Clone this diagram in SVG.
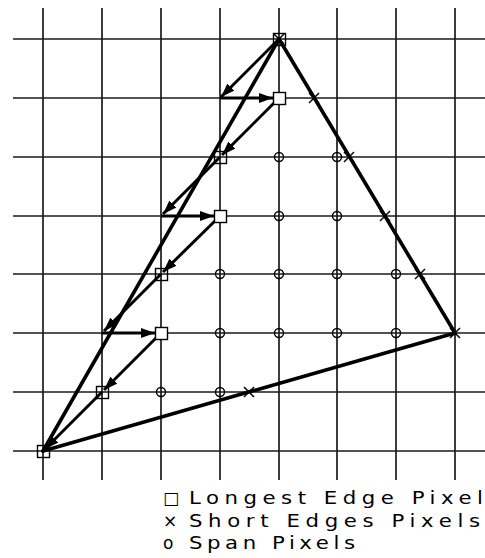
<svg xmlns="http://www.w3.org/2000/svg" width="485" height="558" viewBox="0 0 485 558">
<style>
.grid line{stroke:#1a1a1a;stroke-width:1.7}
.edge{stroke:#000;stroke-width:3.6;fill:none;stroke-linecap:round}
.arr{stroke:#000;stroke-width:3;fill:none;marker-end:url(#ah)}
.sq{fill:#fff;stroke:#000;stroke-width:1.4}
.ci{fill:none;stroke:#000;stroke-width:1.4}
.xm{stroke:#000;stroke-width:1.5}
.lg{font-family:"DejaVu Sans","Liberation Sans",sans-serif;font-size:17px;fill:#000}
</style>
<defs>
<marker id="ah" markerUnits="userSpaceOnUse" markerWidth="15" markerHeight="11" refX="14" refY="5.5" orient="auto">
<path d="M0,0.5 L14,5.5 L0,10.5 z" fill="#000"/>
</marker>
<g id="xs"><line x1="-5" y1="-5" x2="5" y2="5"/><line x1="-5" y1="5" x2="5" y2="-5"/></g>
</defs>
<rect width="485" height="558" fill="#fff"/>
<g id="grid" class="grid">
<line x1="43" y1="8" x2="43" y2="480"/>
<line x1="102" y1="8" x2="102" y2="480"/>
<line x1="161" y1="8" x2="161" y2="480"/>
<line x1="220" y1="8" x2="220" y2="480"/>
<line x1="279" y1="8" x2="279" y2="480"/>
<line x1="337" y1="8" x2="337" y2="480"/>
<line x1="396" y1="8" x2="396" y2="480"/>
<line x1="455" y1="8" x2="455" y2="480"/>
<line x1="13" y1="39" x2="485" y2="39"/>
<line x1="13" y1="98" x2="485" y2="98"/>
<line x1="13" y1="157" x2="485" y2="157"/>
<line x1="13" y1="216" x2="485" y2="216"/>
<line x1="13" y1="274" x2="485" y2="274"/>
<line x1="13" y1="333" x2="485" y2="333"/>
<line x1="13" y1="392" x2="485" y2="392"/>
<line x1="13" y1="451" x2="485" y2="451"/>
</g>
<g id="connectors">
<line class="edge" x1="279" y1="39" x2="43" y2="451"/>
<line class="edge" x1="279" y1="39" x2="455" y2="333"/>
<line class="edge" x1="455" y1="333" x2="43" y2="451"/>
<line class="arr" x1="279" y1="39" x2="221" y2="97"/>
<line class="arr" x1="220" y1="98" x2="273" y2="98"/>
<line class="arr" x1="279" y1="98" x2="222" y2="155"/>
<line class="arr" x1="220" y1="157" x2="163" y2="214"/>
<line class="arr" x1="161" y1="216" x2="214" y2="216"/>
<line class="arr" x1="220" y1="216" x2="163" y2="272"/>
<line class="arr" x1="161" y1="274" x2="104" y2="331"/>
<line class="arr" x1="102" y1="333" x2="155" y2="333"/>
<line class="arr" x1="161" y1="333" x2="104" y2="390"/>
<line class="arr" x1="102" y1="392" x2="45" y2="449"/>
</g>
<g id="span-pixels">
<circle class="ci" cx="279" cy="157" r="4.5"/>
<circle class="ci" cx="337" cy="157" r="4.5"/>
<circle class="ci" cx="279" cy="216" r="4.5"/>
<circle class="ci" cx="337" cy="216" r="4.5"/>
<circle class="ci" cx="220" cy="274" r="4.5"/>
<circle class="ci" cx="279" cy="274" r="4.5"/>
<circle class="ci" cx="337" cy="274" r="4.5"/>
<circle class="ci" cx="396" cy="274" r="4.5"/>
<circle class="ci" cx="220" cy="333" r="4.5"/>
<circle class="ci" cx="279" cy="333" r="4.5"/>
<circle class="ci" cx="337" cy="333" r="4.5"/>
<circle class="ci" cx="396" cy="333" r="4.5"/>
<circle class="ci" cx="161" cy="392" r="4.5"/>
<circle class="ci" cx="220" cy="392" r="4.5"/>
</g>
<g id="short-edge-pixels" class="xm">
<use href="#xs" x="279" y="39"/>
<use href="#xs" x="314" y="98"/>
<use href="#xs" x="349" y="157"/>
<use href="#xs" x="385" y="216"/>
<use href="#xs" x="420" y="274"/>
<use href="#xs" x="455" y="333"/>
<use href="#xs" x="249" y="392"/>
</g>
<g id="longest-edge-pixels">
<rect class="sq" x="273.5" y="33.5" width="12" height="12" fill-opacity="0"/>
<rect class="sq" x="273.5" y="92.5" width="12" height="12"/>
<rect class="sq" x="214.5" y="151.5" width="12" height="12" fill-opacity="0"/>
<rect class="sq" x="214.5" y="210.5" width="12" height="12"/>
<rect class="sq" x="155.5" y="268.5" width="12" height="12" fill-opacity="0"/>
<rect class="sq" x="155.5" y="327.5" width="12" height="12"/>
<rect class="sq" x="96.5" y="386.5" width="12" height="12" fill-opacity="0"/>
<rect class="sq" x="37.5" y="445.5" width="12" height="12" fill-opacity="0"/>
</g>
<g id="legend">
<text class="lg" x="163" y="504" font-size="13">□</text>
<text class="lg" transform="scale(1.25,1)" x="151.2" y="504" textLength="235.2" lengthAdjust="spacing">Longest Edge Pixel</text>
<text class="lg" x="163" y="527" font-size="14">×</text>
<text class="lg" transform="scale(1.25,1)" x="151.2" y="527" textLength="232.8" lengthAdjust="spacing">Short Edges Pixels</text>
<text class="lg" x="163" y="549" font-size="14">o</text>
<text class="lg" transform="scale(1.25,1)" x="151.2" y="549" textLength="132.8" lengthAdjust="spacing">Span Pixels</text>
</g>
</svg>
